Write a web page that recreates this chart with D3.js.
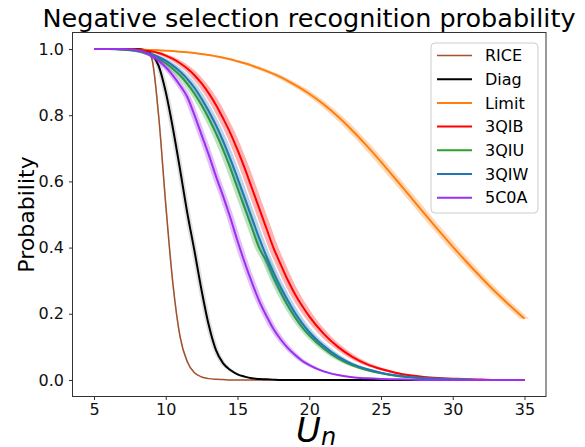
<!DOCTYPE html>
<html>
<head>
<meta charset="utf-8">
<script src="https://cdn.jsdelivr.net/npm/d3@7"></script>
<style>
  html, body { margin: 0; padding: 0; background: #fff; }
  svg { display: block; font-family: "DejaVu Sans", sans-serif; }
</style>
</head>
<body>
<svg id="chart" width="585" height="447"></svg>
<script>
// ---------- DATA ----------
const xs = [5,5.5,6,6.5,7,7.5,8,8.5,9,9.5,10,10.5,11,11.5,12,12.5,13,13.5,14,14.5,15,15.5,16,16.5,17,17.5,18,18.5,19,19.5,20,21,22,23,24,25,26,27,28,29,30,31,32,33,34,35];

const seriesNames = ["RICE", "Diag", "Limit", "3QIB", "3QIU", "3QIW", "5C0A"];

const riceY  = [1,1,1,1,1,1,1,0.998,0.975,0.80,0.53,0.29,0.13,0.055,0.022,0.009,0.004,0.002,0.001,0,0,0,0,0,0,0,0,0,0,0,0,0,0,0,0,0,0,0,0,0,0,0,0,0,0,0];
const diagY  = [1,1,1,1,1,1,1,0.997,0.985,0.95,0.87,0.76,0.635,0.505,0.39,0.27,0.165,0.09,0.05,0.03,0.017,0.01,0.005,0.003,0.002,0.001,0,0,0,0,0,0,0,0,0,0,0,0,0,0,0,0,0,0,0,0];
const limitY = [1,1,1,1,0.999,0.999,0.998,0.998,0.997,0.996,0.995,0.994,0.992,0.99,0.988,0.985,0.982,0.978,0.974,0.969,0.963,0.957,0.95,0.942,0.934,0.925,0.915,0.904,0.892,0.879,0.865,0.833,0.796,0.754,0.708,0.659,0.608,0.556,0.504,0.453,0.403,0.355,0.309,0.265,0.224,0.185];
const qibY   = [1,1,1,1,1,0.999,0.998,0.996,0.993,0.988,0.98,0.97,0.957,0.941,0.921,0.896,0.866,0.831,0.79,0.746,0.695,0.64,0.58,0.52,0.46,0.40,0.35,0.302,0.26,0.224,0.192,0.14,0.10,0.07,0.048,0.033,0.022,0.014,0.009,0.006,0.004,0.002,0.001,0,0,0];
const qiuY   = [1,1,1,0.999,0.998,0.996,0.993,0.988,0.98,0.97,0.957,0.94,0.92,0.895,0.865,0.83,0.79,0.745,0.695,0.64,0.58,0.52,0.46,0.40,0.36,0.31,0.265,0.225,0.19,0.16,0.135,0.095,0.065,0.044,0.03,0.02,0.013,0.008,0.005,0.003,0.002,0.001,0,0,0,0];
const qiwY   = [1,1,1,1,0.999,0.997,0.995,0.991,0.985,0.976,0.965,0.95,0.932,0.91,0.883,0.85,0.812,0.77,0.722,0.668,0.61,0.55,0.49,0.43,0.375,0.325,0.28,0.24,0.203,0.172,0.145,0.103,0.071,0.048,0.033,0.022,0.014,0.009,0.006,0.004,0.002,0.001,0,0,0,0];
const c0aY   = [1,1,1,1,1,0.999,0.997,0.99,0.98,0.965,0.945,0.92,0.89,0.855,0.80,0.74,0.68,0.615,0.555,0.49,0.42,0.355,0.295,0.24,0.195,0.155,0.123,0.097,0.076,0.058,0.045,0.026,0.015,0.008,0.005,0.003,0.002,0.001,0,0,0,0,0,0,0,0];

// horizontal spread of the shaded band around each curve (in U_n units)
const bandSpread = [0.05, 0.2, 0.33, 0.35, 0.3, 0.3, 0.25];

const xTicks = [5, 10, 15, 20, 25, 30, 35];
const yTicks = [0.0, 0.2, 0.4, 0.6, 0.8, 1.0];

const colors = ["#a0522d", "#000000", "#ff7f0e", "#ff0000", "#2ca02c", "#1f77b4", "#9b30f0"];
const seriesValues = [riceY, diagY, limitY, qibY, qiuY, qiwY, c0aY];

// ---------- LAYOUT ----------
const svg = d3.select("#chart");
const L = 72.5, R = 546, T = 32.5, B = 396.5;

const x = d3.scaleLinear().domain([3.5, 36.5]).range([L, R]);
const y = d3.scaleLinear().domain([-0.05, 1.05]).range([B, T]);

svg.append("defs").append("clipPath").attr("id", "plotclip")
  .append("rect").attr("x", L).attr("y", T).attr("width", R - L).attr("height", B - T);

const plot = svg.append("g").attr("clip-path", "url(#plotclip)");

seriesNames.forEach((name, i) => {
  const pts = xs.map((xv, j) => ({ x: xv, y: seriesValues[i][j] }));
  const dx = bandSpread[i];
  const area = d3.area()
    .curve(d3.curveMonotoneX)
    .x0(d => x(d.x - dx))
    .x1(d => x(d.x + dx))
    .y(d => y(d.y));
  plot.append("path")
    .attr("d", area(pts))
    .attr("fill", colors[i])
    .attr("fill-opacity", i === 1 ? 0.12 : 0.3)
    .attr("stroke", "none");
  const line = d3.line().curve(d3.curveMonotoneX).x(d => x(d.x)).y(d => y(d.y));
  plot.append("path")
    .attr("d", line(pts))
    .attr("fill", "none")
    .attr("stroke", colors[i])
    .attr("stroke-width", i === 0 ? 1.5 : 2);
});

// ---------- AXES ----------
const xAxis = svg.append("g").attr("transform", `translate(0,${B})`)
  .call(d3.axisBottom(x).tickValues(xTicks).tickSize(3.5).tickPadding(3.5).tickFormat(d3.format("d")));
const yAxis = svg.append("g").attr("transform", `translate(${L},0)`)
  .call(d3.axisLeft(y).tickValues(yTicks).tickSize(3.5).tickPadding(5).tickFormat(d3.format(".1f")));

[xAxis, yAxis].forEach(g => {
  g.select(".domain").remove();
  g.selectAll(".tick line").attr("stroke", "#333").attr("stroke-width", 1);
  g.selectAll(".tick text").attr("fill", "#111").style("font-size", "16px")
    .style("font-family", "'DejaVu Sans', sans-serif");
});

// frame
svg.append("rect").attr("x", L).attr("y", T).attr("width", R - L).attr("height", B - T)
  .attr("fill", "none").attr("stroke", "#333").attr("stroke-width", 1);

// ---------- TEXT ----------
svg.append("text").attr("x", 309).attr("y", 27).attr("text-anchor", "middle")
  .style("font-size", "25.5px").attr("fill", "#000").text("Negative selection recognition probability");

svg.append("text").attr("transform", `translate(34,${(T + B) / 2}) rotate(-90)`)
  .attr("text-anchor", "middle").style("font-size", "22px").attr("fill", "#000").text("Probability");

const xl = svg.append("text").attr("x", 296).attr("y", 442).style("font-style", "italic").attr("fill", "#000");
xl.append("tspan").style("font-size", "34px").text("U");
xl.append("tspan").style("font-size", "24px").attr("dy", 3).text("n");

// ---------- LEGEND ----------
const lg = svg.append("g");
lg.append("rect").attr("x", 431).attr("y", 43).attr("width", 107).attr("height", 170).attr("rx", 4)
  .attr("fill", "#fff").attr("fill-opacity", 0.8).attr("stroke", "#ccc").attr("stroke-width", 1);
seriesNames.forEach((name, i) => {
  const yy = 55.5 + i * 23.7;
  lg.append("line").attr("x1", 437).attr("x2", 472).attr("y1", yy).attr("y2", yy)
    .attr("stroke", colors[i]).attr("stroke-width", i === 0 ? 1.5 : 2);
  lg.append("text").attr("x", 485).attr("y", yy).attr("dy", "0.36em")
    .style("font-size", "16px").attr("fill", "#000").text(name);
});
</script>
</body>
</html>
